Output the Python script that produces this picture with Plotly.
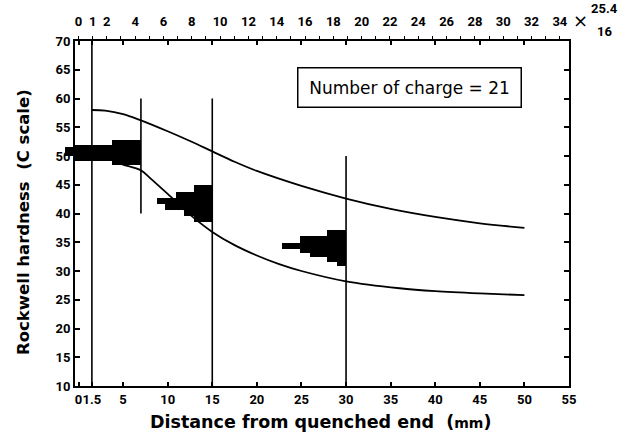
import plotly.graph_objects as go

# ---------------- data ----------------
# Hardenability band limits (Rockwell C) vs distance from quenched end (mm)
upper_x = [1.5, 3, 5, 7, 10, 12.5, 15, 17.5, 20, 25, 30, 35, 40, 45, 50]
upper_y = [58.0, 57.9, 57.3, 56.2, 54.3, 52.6, 50.8, 49.0, 47.4, 44.8, 42.6, 40.8, 39.4, 38.3, 37.5]
lower_x = [4.0, 5, 7, 8, 10, 12.5, 15, 17.5, 20, 22.5, 25, 30, 36, 40, 45, 50]
lower_y = [49.0, 48.5, 47.5, 46.2, 43.4, 39.8, 36.8, 34.5, 32.7, 31.2, 30.0, 28.2, 27.0, 26.5, 26.1, 25.8]

# Measuring positions (mm) and the hardness span of each marker line
line_pos = [1.5, 7, 15, 30]
line_low = [10, 40, 10, 10]
line_high = [70, 60, 60, 50]

# Frequency distributions of hardness at 7, 15 and 30 mm
# (hardness bin limits, bar length in mm drawn to the left of the line)
hist7_lo = [48.4, 49.1, 50.0, 51.6, 51.9]
hist7_hi = [49.1, 50.0, 51.6, 51.9, 52.8]
hist7_len = [3.2, 7.4, 8.5, 7.4, 3.2]

hist15_lo = [38.5, 39.6, 40.6, 41.7, 42.7, 43.8]
hist15_hi = [39.6, 40.6, 41.7, 42.7, 43.8, 45.0]
hist15_len = [2.1, 3.2, 5.3, 6.2, 4.1, 2.1]

hist30_lo = [30.8, 31.6, 32.4, 33.1, 33.8, 34.8, 36.1]
hist30_hi = [31.6, 32.4, 33.1, 33.8, 34.8, 36.1, 37.1]
hist30_len = [1.0, 2.1, 4.0, 5.2, 7.2, 5.2, 2.1]

# Axis ticks
mm_ticks = [0, 1.5, 5, 10, 15, 20, 25, 30, 35, 40, 45, 50, 55]
mm_labels = ["0", "1.5", "5", "10", "15", "20", "25", "30", "35", "40", "45", "50", "55"]
sixteenth_labels = [0, 1, 2, 4, 6, 8, 10, 12, 14, 16, 18, 20, 22, 24, 26, 28, 30, 32, 34]
sixteenth_ticks = list(range(0, 35))
hrc_ticks = list(range(10, 71, 5))

# ---------------- layout geometry ----------------
W, H = 628, 445
X_LEFT, X_RIGHT = 75, 569          # plot frame (px)
Y_TOP, Y_BOT = 41, 386
MM0_PX = 78.5                      # where 0 mm sits
PX_PER_MM = (X_RIGHT - MM0_PX) / 55.0
X_RANGE = [(X_LEFT - MM0_PX) / PX_PER_MM, 55.0]
HIST_LEFT = 60                     # histograms may run past the frame
X3_RANGE = [(HIST_LEFT - MM0_PX) / PX_PER_MM, 55.0]
INCH16 = 25.4 / 16

xdom = [X_LEFT / W, X_RIGHT / W]
x3dom = [HIST_LEFT / W, X_RIGHT / W]
ydom = [(H - Y_BOT) / H, (H - Y_TOP) / H]

tick_font = dict(family="Roboto, DejaVu Sans", size=13, color="black", weight="bold")

fig = go.Figure()

# histograms (on a slightly wider, hidden subplot so they may cross the frame)
for pos, lo, hi, ln in [(7, hist7_lo, hist7_hi, hist7_len),
                        (15, hist15_lo, hist15_hi, hist15_len),
                        (30, hist30_lo, hist30_hi, hist30_len)]:
    fig.add_trace(go.Bar(
        orientation="h",
        y=[(a + b) / 2 for a, b in zip(lo, hi)],
        width=[b - a for a, b in zip(lo, hi)],
        x=ln,
        base=[pos - v for v in ln],
        marker=dict(color="black", line=dict(width=0)),
        xaxis="x3", yaxis="y3", showlegend=False, hoverinfo="skip",
    ))

# measuring lines
for p, lo, hi in zip(line_pos, line_low, line_high):
    fig.add_trace(go.Scatter(x=[p, p], y=[lo, hi], mode="lines",
                             line=dict(color="black", width=1.6),
                             showlegend=False, hoverinfo="skip"))

# band limits
fig.add_trace(go.Scatter(x=upper_x, y=upper_y, mode="lines", line_shape="spline",
                         line=dict(color="black", width=1.8), showlegend=False))
fig.add_trace(go.Scatter(x=lower_x, y=lower_y, mode="lines", line_shape="spline",
                         line=dict(color="black", width=1.8), showlegend=False))

# empty trace so the 1/16-inch scale on top gets drawn
fig.add_trace(go.Scatter(x=[sixteenth_ticks[0], sixteenth_ticks[-1]], y=[None, None],
                         mode="lines", xaxis="x2", yaxis="y",
                         showlegend=False, hoverinfo="skip"))

fig.update_layout(
    width=W, height=H,
    margin=dict(l=0, r=0, t=0, b=0, autoexpand=False),
    paper_bgcolor="white", plot_bgcolor="rgba(0,0,0,0)",
    bargap=0, barmode="overlay",
    xaxis=dict(domain=xdom, range=X_RANGE, anchor="y", automargin=False,
               showgrid=False, zeroline=False, tickangle=0,
               showline=True, linecolor="black", linewidth=2, mirror="ticks",
               ticks="inside", ticklen=4, tickwidth=1.5, tickcolor="black",
               tickvals=mm_ticks, ticktext=mm_labels, tickfont=tick_font),
    xaxis2=dict(overlaying="x", side="top", anchor="y", automargin=False,
                range=[r / INCH16 for r in X_RANGE], tickangle=0,
                showgrid=False, zeroline=False, showline=False,
                ticks="outside", ticklen=4, tickwidth=1.2, tickcolor="black",
                tickvals=sixteenth_ticks,
                ticktext=[str(v) if v in sixteenth_labels else "" for v in sixteenth_ticks],
                tickfont=tick_font, ticklabelstandoff=5),
    yaxis=dict(domain=ydom, range=[10, 70], anchor="x", automargin=False,
               showgrid=False, zeroline=False,
               showline=True, linecolor="black", linewidth=2, mirror="ticks",
               ticks="inside", ticklen=5, tickwidth=1.5, tickcolor="black",
               tickvals=hrc_ticks, tickfont=tick_font),
    xaxis3=dict(domain=x3dom, range=X3_RANGE, anchor="y3", visible=False),
    yaxis3=dict(domain=ydom, range=[10, 70], anchor="x3", visible=False),
)

title_font = dict(family="DejaVu Sans", size=17.5, color="black", weight="bold")
ann = [
    dict(x=320 / W, y=(H - 422) / H, text="Distance from quenched end  (<span style='font-size:14px'>mm</span>)",
         font=title_font),
    dict(x=24 / W, y=(H - 222) / H, text="Rockwell hardness  (C scale)", textangle=-90,
         font=dict(family="DejaVu Sans", size=16.5, color="black", weight="bold")),
    dict(x=580 / W, y=(H - 20) / H, text="×", font=dict(family="DejaVu Sans", size=18, color="black")),
    dict(x=604 / W, y=(H - 9) / H, text="25.4", font=tick_font),
    dict(x=604 / W, y=(H - 31) / H, text="16", font=tick_font),
    dict(x=409.5 / W, y=(H - 88) / H, text="Number of charge = 21",
         font=dict(family="DejaVu Sans", size=17, color="black"),
         bordercolor="black", borderwidth=1.5, borderpad=0, width=222, height=38,
         bgcolor="white"),
]
for a in ann:
    a.setdefault("xref", "paper")
    a.setdefault("yref", "paper")
    a["xanchor"] = "center"
    a["yanchor"] = "middle"
    a["showarrow"] = False
    fig.add_annotation(**a)

fig.write_html("out.html")
